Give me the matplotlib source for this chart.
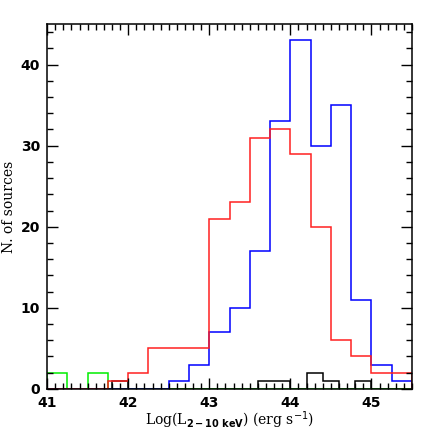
import matplotlib.pyplot as plt
import numpy as np
from matplotlib.ticker import MultipleLocator

# bin edges (0.25 dex) for the red, blue and green histograms
edges = np.arange(41.0, 45.51, 0.25)

red_counts = [0, 0, 0, 1, 2, 5, 5, 5, 21, 23, 31, 32, 29, 20, 6, 4, 2, 2]
blue_counts = [0, 0, 0, 0, 0, 0, 1, 3, 7, 10, 17, 33, 43, 30, 35, 11, 3, 1]
green_counts = [2, 0, 2, 0, 0, 0, 0, 0, 0, 0, 0, 0, 0, 0, 0, 0, 0, 0]

# black histogram uses 0.2 dex bins
black_edges = np.arange(41.0, 45.41, 0.2)
black_counts = [0, 0, 0, 0, 1, 0, 0, 0, 0, 0, 0, 0, 0, 1, 1, 0, 2, 1, 0, 1, 0, 0]

fig = plt.figure(figsize=(4.36, 4.36), dpi=100)
ax = fig.add_axes([0.108, 0.108, 0.837, 0.837])

ax.stairs(black_counts, black_edges, color="black", lw=1.1)
ax.stairs(green_counts, edges, color="#00ee00", lw=1.1)
ax.stairs(blue_counts, edges, color="blue", lw=1.1)
ax.stairs(red_counts, edges, color="#ff2020", lw=1.1)

ax.set_xlim(41, 45.5)
ax.set_ylim(0, 45)

ax.xaxis.set_major_locator(MultipleLocator(1))
ax.xaxis.set_minor_locator(MultipleLocator(0.1))
ax.yaxis.set_major_locator(MultipleLocator(10))
ax.yaxis.set_minor_locator(MultipleLocator(2))
ax.tick_params(which="both", direction="in", top=True, right=True, width=1)
ax.tick_params(which="major", length=8, labelsize=10, pad=5)
ax.tick_params(which="minor", length=4)
for lab in ax.get_xticklabels() + ax.get_yticklabels():
    lab.set_fontweight("bold")
for s in ax.spines.values():
    s.set_linewidth(1.1)

ax.set_xlabel(r"Log(L$_{\mathbf{2-10\ keV}}$) (erg s$^{-1}$)", family="DejaVu Serif",
              fontsize=10, va="center")
ax.set_ylabel("N. of sources", family="DejaVu Serif", fontsize=10, va="center")
ax.xaxis.set_label_coords(0.5, -0.085)
ax.yaxis.set_label_coords(-0.105, 0.5)

fig.savefig("out.png", dpi=100)
